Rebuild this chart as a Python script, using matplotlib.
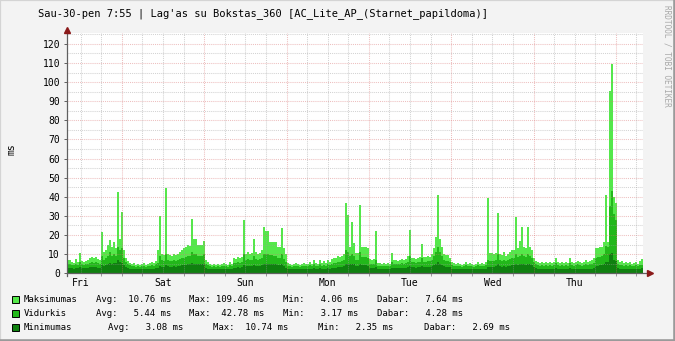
import numpy as np
import matplotlib.pyplot as plt
from matplotlib.patches import Rectangle
from matplotlib.lines import Line2D

# one value per ~35 min bin, 288 bins over the week (Fri 7:55 -> Thu 7:55)
maksimumas = [
    7, 7, 6, 5.5, 7.5, 6, 10.7, 6.5, 6, 6.5,
    7, 8, 8.5, 8, 8.5, 7.5, 7, 21.8, 11, 12,
    15, 17.5, 14, 16.3, 13, 42.5, 18, 32, 12, 8,
    6.5, 5.5, 5, 5.5, 4.5, 5, 4.3, 5, 5.5, 4.5,
    5, 5.5, 6, 5.5, 6.5, 12, 30, 10, 9.5, 44.8,
    10, 9.5, 9, 10, 9.5, 10, 11, 12, 13, 14,
    15, 14.5, 28.4, 18, 18, 15, 15, 15, 17, 7,
    6, 5, 4.5, 5, 4.2, 5, 4.5, 5, 5.5, 5,
    4.5, 6, 5, 8, 7.5, 8.5, 8, 8.5, 28, 10,
    11, 10, 10.5, 18, 11, 10, 10.5, 12, 24, 22,
    22, 16.5, 16.5, 16.5, 16.5, 14, 14, 23.5, 13, 10,
    5.5, 5, 4.5, 5, 5.5, 5, 4.1, 5, 5.5, 5,
    5, 6, 5, 7, 5.5, 5, 7, 5.5, 6.5, 5.5,
    7, 6, 7.5, 8, 8, 9, 8.5, 9, 10, 36.6,
    30.5, 14, 27, 15.7, 10.5, 10.5, 35.7, 14, 14, 14,
    13, 7.3, 7, 7.5, 22, 5.5, 5.5, 5, 5.5, 5,
    5.5, 5, 10.8, 7, 7, 6.5, 7, 7.5, 7, 7.5,
    9, 22.6, 8, 8, 7.5, 8, 8.5, 15.3, 8.7, 8.5,
    9, 8.7, 10, 13, 19, 41, 18, 14, 10, 9.6,
    9.6, 8, 6, 5.5, 5, 5.5, 5, 4.5, 5, 6,
    5, 5.5, 5, 4.5, 5, 6, 5, 5.5, 5, 6,
    39.4, 10.5, 10.5, 10, 10.5, 31.7, 10, 9.5, 11, 9,
    10, 11, 12, 12, 29.6, 13, 17, 24, 14, 13,
    24, 14, 12, 8, 6.5, 6, 5.5, 6, 5.5, 6,
    5.5, 6, 5.5, 6, 8, 6, 5.5, 6, 5.5, 6,
    5.5, 8, 6, 5.5, 6, 6.5, 6, 5.5, 6, 7,
    6, 6.5, 7, 8, 13, 13, 13.5, 14, 16.5, 41,
    16.6, 95.5, 109.46, 40, 37, 7, 6, 6.5, 5.5, 6,
    5.5, 6, 5, 5.5, 6, 5, 6.5, 7.64,
]

vidurkis = [
    5, 5, 4.5, 4.5, 5, 4.5, 6, 5, 4.5, 5,
    5, 5.5, 6, 5.5, 6, 5.5, 5, 9, 7, 8,
    9, 11, 9, 10, 9, 14, 12, 13, 8, 6,
    5, 4.5, 4, 4, 3.5, 4, 3.5, 4, 4, 3.5,
    4, 4, 4.5, 4, 5, 5.5, 9, 7, 6.5, 10,
    7, 6.5, 6.5, 7, 6.5, 7, 7.5, 8, 8, 8.5,
    9, 9, 11, 10, 10, 9, 9, 9, 10, 5,
    4.5, 4, 3.5, 4, 3.5, 4, 3.5, 4, 4, 4,
    3.5, 4.5, 4, 5.5, 5.5, 6, 5.5, 6, 10, 7,
    7.5, 7, 7, 9, 7.5, 7, 7.5, 8, 10, 10,
    10, 9.5, 9.5, 9, 9, 8, 8, 10, 7.5, 6,
    4, 4, 3.5, 4, 4, 4, 3.5, 4, 4, 4,
    4, 4.5, 4, 5, 4, 4, 5, 4, 4.5, 4,
    5, 4.5, 5, 5.5, 5.5, 6, 6, 6.5, 7, 12,
    11, 9, 10, 9, 7, 7, 11, 8.5, 8.5, 8.5,
    8, 5, 5, 5, 7, 4, 4, 4, 4, 4,
    4, 4, 6, 5, 5, 5, 5, 5.5, 5, 5.5,
    6, 9, 6, 6, 5.5, 6, 6, 8, 6, 6,
    6.5, 6.5, 7, 9, 11, 14, 11, 9, 7, 6.5,
    6.5, 6, 4.5, 4, 4, 4, 4, 3.5, 4, 4.5,
    4, 4, 4, 3.5, 4, 4.5, 4, 4, 4, 4.5,
    7, 6.5, 6.5, 6.5, 7, 10, 7, 6.5, 7, 6.5,
    7, 7.5, 8, 8, 10, 8.5, 9, 10, 9, 8.5,
    10, 9, 8, 6, 5, 4.5, 4, 4.5, 4, 4.5,
    4, 4.5, 4, 4.5, 5.5, 4.5, 4, 4.5, 4, 4.5,
    4, 5.5, 4.5, 4, 4.5, 5, 4.5, 4, 4.5, 5,
    4.5, 5, 5, 5.5, 8, 8.5, 8.5, 9, 10, 14.5,
    14, 35, 42.78, 31, 28, 5, 4.5, 4.5, 4, 4.5,
    4, 4.5, 4, 4, 4.5, 4, 4.5, 4.28,
]

minimumas = [
    3, 3, 3, 2.5, 3, 3, 3.5, 3, 3, 3,
    3, 3.5, 3.5, 3.5, 3.5, 3, 3, 4.5, 4, 4.5,
    5, 5.5, 5, 5.5, 5.5, 7, 6, 5.5, 4.5, 3.5,
    3, 2.5, 2.5, 2.5, 2.4, 2.5, 2.4, 2.5, 2.5, 2.4,
    2.5, 2.5, 2.5, 2.5, 3, 3, 4, 3.5, 3.5, 4.5,
    4, 3.5, 3.5, 4, 3.5, 4, 4, 4.5, 4.5, 4.5,
    5, 5, 5.5, 5, 5, 5, 5, 5, 5, 3,
    2.5, 2.5, 2.4, 2.5, 2.4, 2.5, 2.4, 2.5, 2.5, 2.5,
    2.4, 2.5, 2.5, 3, 3, 3.5, 3, 3.5, 4.5, 4,
    4, 4, 4, 4.5, 4, 4, 4, 4.5, 5, 5,
    5, 5, 5, 5, 5, 4.5, 4.5, 5, 4, 3,
    2.5, 2.4, 2.4, 2.5, 2.5, 2.4, 2.4, 2.5, 2.5, 2.5,
    2.5, 2.5, 2.5, 3, 2.5, 2.5, 3, 2.5, 2.5, 2.5,
    3, 2.5, 3, 3, 3, 3.5, 3.5, 3.5, 4, 5,
    5, 5, 5, 5, 4, 4, 5, 4.5, 4.5, 4.5,
    4, 3, 3, 3, 3.5, 2.5, 2.5, 2.4, 2.4, 2.5,
    2.5, 2.5, 3, 3, 3, 3, 3, 3, 3, 3,
    3.5, 4, 3.5, 3.5, 3, 3.5, 3.5, 4, 3.5, 3.5,
    3.5, 3.5, 4, 4.5, 5, 6, 5, 4.5, 4, 3.5,
    3.5, 3.5, 2.5, 2.5, 2.4, 2.5, 2.4, 2.35, 2.5, 2.5,
    2.5, 2.4, 2.5, 2.4, 2.5, 2.5, 2.4, 2.5, 2.5, 2.5,
    3.5, 3.5, 3.5, 3.5, 4, 5, 4, 3.5, 4, 3.5,
    4, 4, 4.5, 4.5, 5, 4.5, 5, 5, 5, 4.5,
    5, 5, 4.5, 3.5, 3, 2.5, 2.5, 2.5, 2.4, 2.5,
    2.4, 2.5, 2.4, 2.5, 3, 2.5, 2.5, 2.5, 2.4, 2.5,
    2.4, 3, 2.5, 2.5, 2.5, 2.5, 2.5, 2.4, 2.5, 2.5,
    2.5, 2.5, 2.5, 3, 4, 4, 4.5, 4.5, 5, 6,
    6, 10, 10.74, 7, 6.5, 3, 2.5, 2.5, 2.5, 2.5,
    2.4, 2.5, 2.4, 2.5, 2.5, 2.4, 2.5, 2.69,
]

days = ['Fri', 'Sat', 'Sun', 'Mon', 'Tue', 'Wed', 'Thu']
span_h = 168.0
first_midnight = 16.08   # hours after start (Fri 7:55)

title = "Sau-30-pen 7:55 | Lag'as su Bokstas_360 [AC_Lite_AP_(Starnet_papildoma)]"
legend_names = ['Maksimumas', 'Vidurkis', 'Minimumas']
legend_avg = ['Avg:  10.76 ms', 'Avg:   5.44 ms', 'Avg:   3.08 ms']
legend_max = ['Max: 109.46 ms', 'Max:  42.78 ms', 'Max:  10.74 ms']
legend_min = ['Min:   4.06 ms', 'Min:   3.17 ms', 'Min:   2.35 ms']
legend_now = ['Dabar:   7.64 ms', 'Dabar:   4.28 ms', 'Dabar:   2.69 ms']

colors = ['#54E84A', '#22B81A', '#0F800F']
mono = 'DejaVu Sans Mono'

W, H = 675, 341
fig = plt.figure(figsize=(W / 100, H / 100), dpi=100)
fig.patch.set_facecolor('#F3F3F3')

left, right, top, bottom = 66.7, 643.0, 33.3, 273.3
ax = fig.add_axes([left / W, (H - bottom) / H, (right - left) / W, (bottom - top) / H])
ax.set_facecolor('white')

edges = np.linspace(0, span_h, len(maksimumas) + 1)
for vals, c in zip([maksimumas, vidurkis, minimumas], colors):
    ax.stairs(vals, edges, fill=True, color=c, baseline=0, zorder=2, lw=0)

ax.set_xlim(0, span_h)
ax.set_ylim(0, 125.5)

# grid (drawn over the data, like rrdtool)
minor_c = (0.62, 0.62, 0.62, 0.45)
major_c = (0.85, 0.45, 0.45, 0.45)
dots = (0, (1, 1))
for y in np.arange(5, 126, 10):
    ax.axhline(y, color=minor_c, lw=0.75, ls=dots, zorder=3)
for y in np.arange(10, 121, 10):
    ax.axhline(y, color=major_c, lw=0.75, ls=dots, zorder=3)
six_h = np.arange(first_midnight - 12, span_h, 6)
six_h = six_h[six_h > 0]
midnights = np.arange(first_midnight, span_h, 24)
for x in six_h:
    if np.min(np.abs(midnights - x)) > 0.1:
        ax.axvline(x, color=minor_c, lw=0.75, ls=dots, zorder=3)
for x in midnights:
    ax.axvline(x, color=major_c, lw=0.75, ls=dots, zorder=3)

for s in ax.spines.values():
    s.set_visible(False)

# axes lines with arrows
ax.plot([0, 1.012], [0, 0], transform=ax.transAxes, color='#606060', lw=0.9,
        clip_on=False, zorder=4)
ax.plot([0, 0], [-0.012, 1.0], transform=ax.transAxes, color='#606060', lw=0.9,
        clip_on=False, zorder=4)
ax.plot([1.012], [0], transform=ax.transAxes, marker='>', color='#8B1A1A',
        ms=4.5, clip_on=False, zorder=5)
ax.plot([0], [1.012], transform=ax.transAxes, marker='^', color='#8B1A1A',
        ms=4.5, clip_on=False, zorder=5)

noon = first_midnight - 12 + 24 * np.arange(len(days))
ax.set_xticks(noon, days)
ax.set_xticks(six_h, minor=True)
ax.tick_params(axis='x', which='major', length=0, pad=3.2, labelsize=7)
ax.tick_params(axis='x', which='minor', length=2, color='#999999', width=0.7)
for lab in ax.get_xticklabels():
    lab.set_family(mono)

ax.set_yticks(np.arange(0, 121, 10))
ax.tick_params(axis='y', which='major', length=2.2, width=0.7, color='#606060',
               pad=2.6, labelsize=7)
for lab in ax.get_yticklabels():
    lab.set_family(mono)

fig.text(11.5 / W, 1 - 149 / H, 'ms', rotation=90, ha='center', va='center',
         family=mono, fontsize=7)
fig.text(263.3 / W, 1 - 14 / H, title, ha='center', va='center', family=mono,
         fontsize=7.5)
fig.text(667 / W, 1 - 5 / H, 'RRDTOOL / TOBI OETIKER', rotation=270, ha='center',
         va='top', family=mono, fontsize=5.6, color='#A8A8A8')

# legend
rows_y = [299.5, 313.4, 327.0]
avg_x = [96.0, 96.0, 107.7]
max_x = [189.3, 189.3, 213.3]
min_x = [282.7, 282.7, 318.3]
now_x = [376.7, 376.7, 424.0]
for i in range(3):
    y = rows_y[i]
    fig.patches.append(Rectangle((11.7 / W, 1 - (y + 3.5) / H), 6.8 / W, 7 / H,
                                 transform=fig.transFigure, facecolor=colors[i],
                                 edgecolor='black', lw=0.7))
    for x, t in [(23.3, legend_names[i]), (avg_x[i], legend_avg[i]),
                 (max_x[i], legend_max[i]), (min_x[i], legend_min[i]),
                 (now_x[i], legend_now[i])]:
        fig.text(x / W, 1 - y / H, t, ha='left', va='center', family=mono,
                 fontsize=6.5)

# 3d-ish image frame
fig.add_artist(Line2D([0, 0, 1], [0, 1, 1], transform=fig.transFigure,
                      color='#D4D4D4', lw=1.6))
fig.add_artist(Line2D([0, 1, 1], [0, 0, 1], transform=fig.transFigure,
                      color='#9A9A9A', lw=2.6))

fig.savefig('out.png', dpi=100, facecolor=fig.get_facecolor())
